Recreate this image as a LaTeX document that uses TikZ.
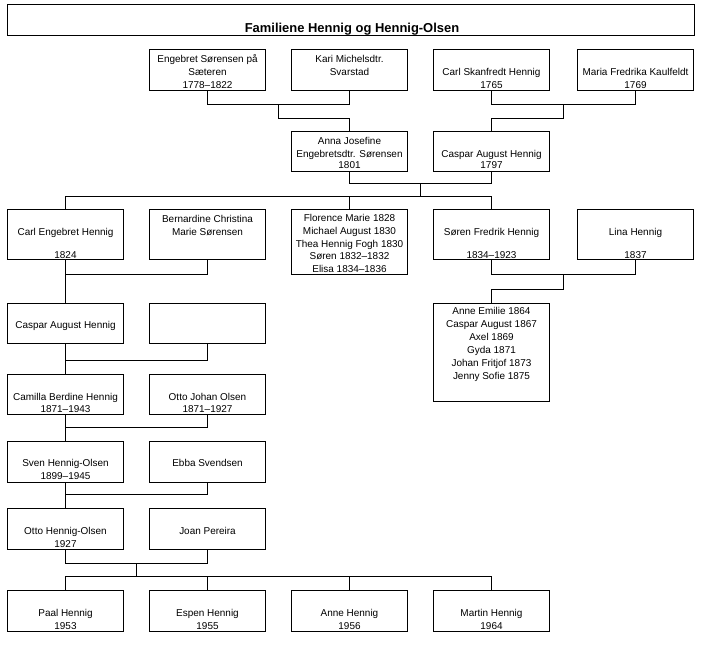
\documentclass[tikz,border=0pt]{standalone}
\usepackage{fontspec}
\setmainfont{Liberation Sans}
\begin{document}
\begin{tikzpicture}[x=1bp,y=-1bp,
  pbox/.style={draw=black, line width=1bp, inner sep=0pt, outer sep=0pt, fill=white},
  lbl/.style={font=\fontsize{10}{12}\selectfont, inner sep=0pt, anchor=base},
  ttl/.style={font=\fontsize{13}{15}\selectfont\bfseries, inner sep=0pt, anchor=base},
  conn/.style={draw=black, line width=1bp, line join=miter, line cap=rect}]
\newcommand\pbox[5]{\node[pbox, minimum width={(#4-#2)*1.00375}, minimum height={(#5-#3)*1.00375}] (#1) at ({(#2+#4)/2},{(#3+#5)/2}) {};}
\newcommand\tl[4]{\node[lbl] (#1) at (#2,#3) {#4};}
\fill[white] (0,0) rectangle (707,645);
\useasboundingbox (0,0) rectangle (707,645);
% title
\pbox{title}{7.5}{4.5}{694.5}{35.5}
\node[ttl] (titletext) at (352,32.5) {Familiene Hennig og Hennig-Olsen};
% row 1
\pbox{eng}{149.5}{49.5}{265.5}{90.5}
\pbox{kari}{291.5}{49.5}{407.5}{90.5}
\pbox{carl}{433.5}{49.5}{549.5}{90.5}
\pbox{maria}{577.5}{49.5}{693.5}{90.5}
\tl{eng1}{207.5}{62.7}{Engebret Sørensen på}
\tl{eng2}{207.5}{75.7}{Sæteren}
\tl{eng3}{207.5}{88.7}{1778–1822}
\tl{kari1}{349.5}{62.7}{Kari Michelsdtr.}
\tl{kari2}{349.5}{75.7}{Svarstad}
\tl{carl1}{491.5}{75.7}{Carl Skanfredt Hennig}
\tl{carl2}{491.5}{88.7}{1765}
\tl{maria1}{635.5}{75.7}{Maria Fredrika Kaulfeldt}
\tl{maria2}{635.5}{88.7}{1769}
% row 2
\pbox{anna}{291.5}{131.5}{407.5}{171.5}
\pbox{casp}{433.5}{131.5}{549.5}{171.5}
\tl{anna1}{349.5}{144.4}{Anna Josefine}
\tl{anna2}{349.5}{157.4}{Engebretsdtr. Sørensen}
\tl{anna3}{349.5}{169}{1801}
\tl{casp1}{491.5}{157.4}{Caspar August Hennig}
\tl{casp2}{491.5}{169}{1797}
% row 3
\pbox{carlE}{7.5}{209.5}{123.5}{259.5}
\pbox{bern}{149.5}{209.5}{265.5}{259.5}
\pbox{flor}{291.5}{209.5}{407.5}{274.5}
\pbox{soren}{433.5}{209.5}{549.5}{259.5}
\pbox{lina}{577.5}{209.5}{693.5}{259.5}
\tl{carlE1}{65.5}{235}{Carl Engebret Hennig}
\tl{carlE2}{65.5}{258}{1824}
\tl{bern1}{207.5}{222.4}{Bernardine Christina}
\tl{bern2}{207.5}{235}{Marie Sørensen}
\tl{flor1}{349.5}{221.4}{Florence Marie 1828}
\tl{flor2}{349.5}{234}{Michael August 1830}
\tl{flor3}{349.5}{247}{Thea Hennig Fogh 1830}
\tl{flor4}{349.5}{259.7}{Søren 1832–1832}
\tl{flor5}{349.5}{272.4}{Elisa 1834–1836}
\tl{soren1}{491.5}{235}{Søren Fredrik Hennig}
\tl{soren2}{491.5}{258}{1834–1923}
\tl{lina1}{635.5}{235}{Lina Hennig}
\tl{lina2}{635.5}{258}{1837}
% children of Søren
\pbox{anneE}{433.5}{303.5}{549.5}{401.5}
\tl{anneE1}{491.5}{314.4}{Anne Emilie 1864}
\tl{anneE2}{491.5}{327.4}{Caspar August 1867}
\tl{anneE3}{491.5}{340.4}{Axel 1869}
\tl{anneE4}{491.5}{353.4}{Gyda 1871}
\tl{anneE5}{491.5}{366.2}{Johan Fritjof 1873}
\tl{anneE6}{491.5}{379}{Jenny Sofie 1875}
% row 4
\pbox{caspA}{7.5}{303.5}{123.5}{343.5}
\pbox{empty}{149.5}{303.5}{265.5}{343.5}
\tl{caspA1}{65.5}{328.7}{Caspar August Hennig}
% row 5
\pbox{cam}{7.5}{374.5}{123.5}{414.5}
\pbox{ottoJ}{149.5}{374.5}{265.5}{414.5}
\tl{cam1}{65.5}{400}{Camilla Berdine Hennig}
\tl{cam2}{65.5}{412.7}{1871–1943}
\tl{ottoJ1}{207.5}{400}{Otto Johan Olsen}
\tl{ottoJ2}{207.5}{412.7}{1871–1927}
% row 6
\pbox{sven}{7.5}{441.5}{123.5}{482.5}
\pbox{ebba}{149.5}{441.5}{265.5}{482.5}
\tl{sven1}{65.5}{466.7}{Sven Hennig-Olsen}
\tl{sven2}{65.5}{479.7}{1899–1945}
\tl{ebba1}{207.5}{466.7}{Ebba Svendsen}
% row 7
\pbox{ottoH}{7.5}{508.5}{123.5}{549.5}
\pbox{joan}{149.5}{508.5}{265.5}{549.5}
\tl{ottoH1}{65.5}{534}{Otto Hennig-Olsen}
\tl{ottoH2}{65.5}{547.7}{1927}
\tl{joan1}{207.5}{534}{Joan Pereira}
% row 8
\pbox{paal}{7.5}{590.5}{123.5}{631.5}
\pbox{espen}{149.5}{590.5}{265.5}{631.5}
\pbox{anneH}{291.5}{590.5}{407.5}{631.5}
\pbox{martin}{433.5}{590.5}{549.5}{631.5}
\tl{paal1}{65.5}{616.4}{Paal Hennig}
\tl{paal2}{65.5}{629.4}{1953}
\tl{espen1}{207.5}{616.4}{Espen Hennig}
\tl{espen2}{207.5}{629.4}{1955}
\tl{anneH1}{349.5}{616.4}{Anne Hennig}
\tl{anneH2}{349.5}{629.4}{1956}
\tl{martin1}{491.5}{616.4}{Martin Hennig}
\tl{martin2}{491.5}{629.4}{1964}
% connectors
\coordinate (j1) at (278.5,104.5);
\coordinate (j1b) at (278.5,118.5);
\draw[conn] (eng.south) |- (j1) -| (kari.south);
\draw[conn] (j1) -- (j1b) -| (anna.north);
\coordinate (j2) at (563.5,104.5);
\coordinate (j2b) at (563.5,118.5);
\draw[conn] (carl.south) |- (j2) -| (maria.south);
\draw[conn] (j2) -- (j2b) -| (casp.north);
\coordinate (j3) at (420.5,183.5);
\coordinate (j3b) at (420.5,196.5);
\draw[conn] (anna.south) |- (j3) -| (casp.south);
\draw[conn] (j3) -- (j3b);
\draw[conn] (carlE.north) |- (j3b) -| (soren.north);
\draw[conn] (flor.north) -- (flor.north |- j3b);
\coordinate (j4) at (136.5,274.5);
\draw[conn] (carlE.south) |- (j4) -| (bern.south);
\draw[conn] (carlE.south) -- (caspA.north);
\coordinate (j5) at (563.5,274.5);
\coordinate (j5b) at (563.5,289.5);
\draw[conn] (soren.south) |- (j5) -| (lina.south);
\draw[conn] (j5) -- (j5b) -| (anneE.north);
\coordinate (j6) at (136.5,360.5);
\draw[conn] (caspA.south) |- (j6) -| (empty.south);
\draw[conn] (caspA.south) -- (cam.north);
\coordinate (j7) at (136.5,427.5);
\draw[conn] (cam.south) |- (j7) -| (ottoJ.south);
\draw[conn] (cam.south) -- (sven.north);
\coordinate (j8) at (136.5,494.5);
\draw[conn] (sven.south) |- (j8) -| (ebba.south);
\draw[conn] (sven.south) -- (ottoH.north);
\coordinate (j9) at (136.5,563.5);
\coordinate (j9b) at (136.5,576.5);
\draw[conn] (ottoH.south) |- (j9) -| (joan.south);
\draw[conn] (j9) -- (j9b);
\draw[conn] (paal.north) |- (j9b) -| (martin.north);
\draw[conn] (espen.north) -- (espen.north |- j9b);
\draw[conn] (anneH.north) -- (anneH.north |- j9b);
\end{tikzpicture}
\end{document}
